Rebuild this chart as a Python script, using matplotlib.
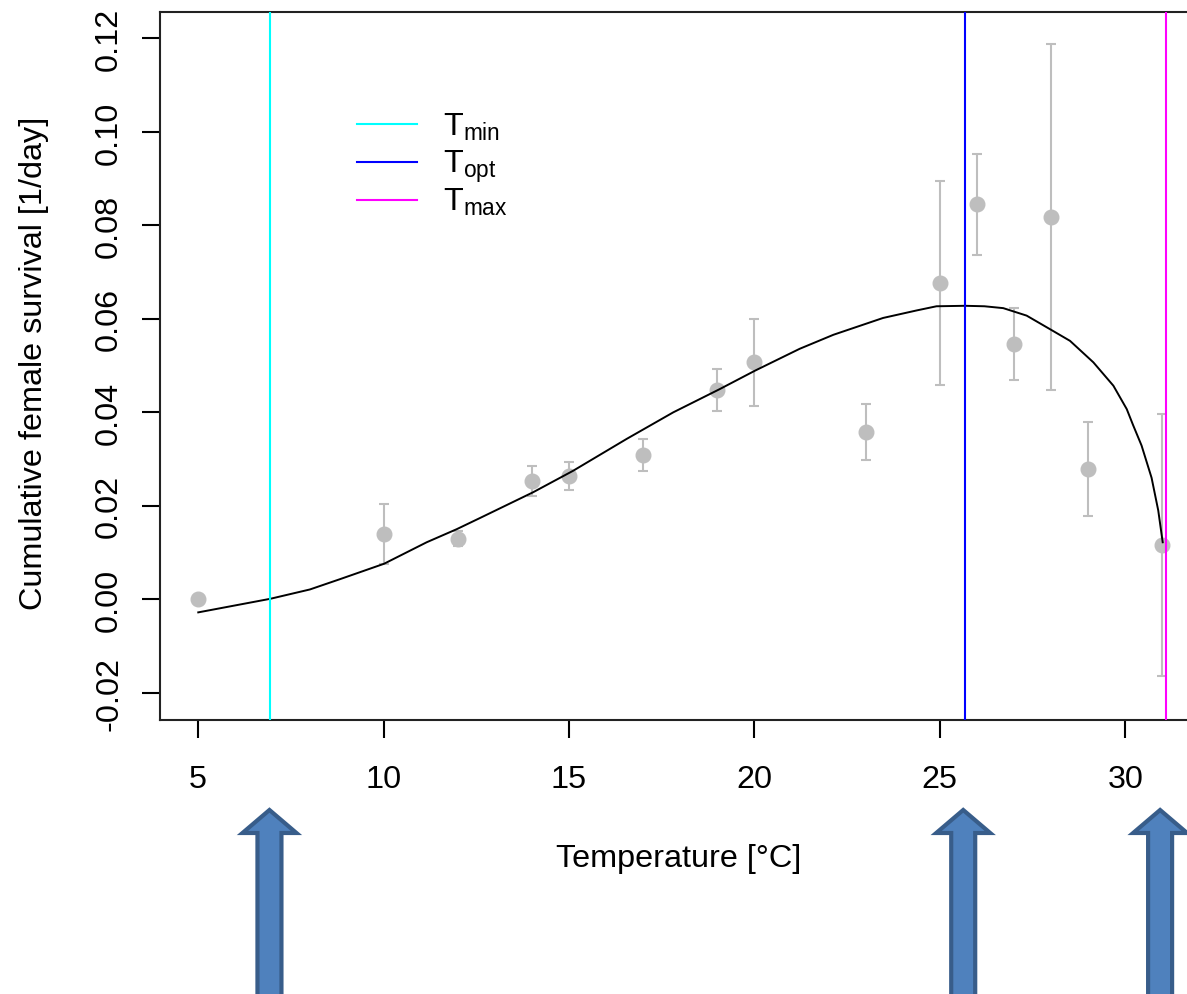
import matplotlib
matplotlib.use("Agg")
import matplotlib.pyplot as plt
from matplotlib.patches import Polygon
from matplotlib.lines import Line2D
from matplotlib.transforms import IdentityTransform

# ---------------- data ----------------
temp = [5, 10, 12, 14, 15, 17, 19, 20, 23, 25, 26, 27, 28, 29, 31]
survival = [0.0000, 0.0139, 0.0130, 0.0254, 0.0263, 0.0308, 0.0447, 0.0507,
            0.0358, 0.0677, 0.0845, 0.0547, 0.0818, 0.0279, 0.0116]
survival_err = [0.0000, 0.0064, 0.0017, 0.0032, 0.0030, 0.0034, 0.0045, 0.0093,
                0.0060, 0.0218, 0.0108, 0.0077, 0.0370, 0.0100, 0.0281]

curve_temp = [5.0, 6.94, 8.01, 8.82, 10.01, 11.16, 11.97, 12.60, 14.03, 15.11,
              16.55, 17.81, 19.07, 20.01, 21.22, 22.13, 23.47, 24.37, 24.91,
              25.68, 26.2, 26.71, 27.34, 27.97, 28.51, 29.14, 29.68, 30.04,
              30.21, 30.44, 30.71, 30.89, 31.01]
curve_rate = [-0.0028, 0.0001, 0.0021, 0.0043, 0.0076, 0.0122, 0.0150, 0.0174,
              0.0229, 0.0275, 0.0343, 0.0400, 0.0450, 0.0489, 0.0536, 0.0566,
              0.0602, 0.0618, 0.0627, 0.0628, 0.0627, 0.0623, 0.0607, 0.0578,
              0.0553, 0.0507, 0.0457, 0.0407, 0.0373, 0.0329, 0.0260,
              0.0190, 0.0122]

t_min, t_opt, t_max = 6.94, 25.69, 31.10
threshold_values = [t_min, t_opt, t_max]
threshold_colors = ["#00FFFF", "#0000FF", "#FF00FF"]
threshold_labels = [r"$\mathregular{T_{min}}$", r"$\mathregular{T_{opt}}$",
                    r"$\mathregular{T_{max}}$"]
arrow_temps = [6.92, 25.63, 30.94]

x_ticks = [5, 10, 15, 20, 25, 30]
x_ticklabels = ["5", "10", "15", "20", "25", "30"]
y_ticks = [-0.02, 0.00, 0.02, 0.04, 0.06, 0.08, 0.10, 0.12]
y_ticklabels = ["-0.02", "0.00", "0.02", "0.04", "0.06", "0.08", "0.10", "0.12"]

# ---------------- figure ----------------
plt.rcParams["font.family"] = ["Liberation Sans", "DejaVu Sans"]
FS = 23.3
W, H = 1187, 995
fig = plt.figure(figsize=(W / 100, H / 100), dpi=100)
fig.patch.set_facecolor("white")

ax_l, ax_r, ax_t, ax_b = 159.7, 1204.6, 12.7, 721.0
ax = fig.add_axes([ax_l / W, (H - ax_b) / H, (ax_r - ax_l) / W, (ax_b - ax_t) / H])

ax.errorbar(temp, survival, yerr=survival_err, fmt="o", color="#BEBEBE",
            ms=10.5, elinewidth=1.5, capsize=3.6, capthick=1.5, zorder=2)
ax.plot(curve_temp, curve_rate, color="black", lw=1.4, zorder=3)
for v, c in zip(threshold_values, threshold_colors):
    ax.axvline(v, color=c, lw=1.5, zorder=4)

ax.set_xlim(3.96, 32.14)
ax.set_ylim(-0.02583, 0.12573)

ax.set_xticks(x_ticks)
ax.set_xticklabels(x_ticklabels, fontsize=FS)
ax.set_yticks(y_ticks)
ax.set_yticklabels(y_ticklabels, fontsize=FS, rotation=90, va="center", ha="right")
ax.tick_params(axis="both", length=13, width=1.5, colors="black")
ax.tick_params(axis="x", pad=19)
ax.tick_params(axis="y", pad=12.7)
for s in ax.spines.values():
    s.set_linewidth(1.5)
    s.set_color("#222222")

ax.set_xlabel("Temperature [°C]", fontsize=FS)
ax.set_ylabel("Cumulative female survival [1/day]", fontsize=FS)
aw, ah = ax_r - ax_l, ax_b - ax_t
ax.xaxis.set_label_coords((678.5 - ax_l) / aw, (ax_b - 844.5) / ah)
ax.yaxis.set_label_coords((48.6 - ax_l) / aw, (ax_b - 363.0) / ah)

# legend (no box)
leg_line_y = [125.0, 162.7, 200.7]
for yy, c, lab in zip(leg_line_y, threshold_colors, threshold_labels):
    fig.add_artist(Line2D([357 / W, 417 / W], [1 - yy / H, 1 - yy / H],
                          transform=fig.transFigure, color=c, lw=1.5))
    fig.text(443 / W, 1 - (yy + 10.5) / H, lab, fontsize=FS, va="baseline", ha="left")

# block arrows below the axis
for t in arrow_temps:
    xc = ax.transData.transform((t, 0))[0]
    apex, base, bottom = H - 811, H - 834, -10
    verts = [(xc, apex), (xc + 27, base), (xc + 12, base), (xc + 12, bottom),
             (xc - 12, bottom), (xc - 12, base), (xc - 27, base)]
    fig.add_artist(Polygon(verts, closed=True, transform=IdentityTransform(),
                           facecolor="#4F81BD", edgecolor="#385D8A", lw=3,
                           joinstyle="miter"))

fig.savefig("out.png", dpi=100)
